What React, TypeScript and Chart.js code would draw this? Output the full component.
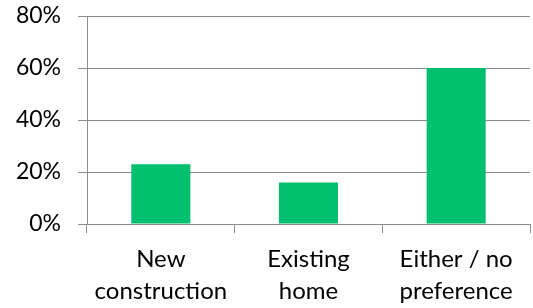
import React, { useEffect, useRef } from "react";
import { Chart, registerables } from "chart.js";

Chart.register(...registerables);

const categories: string[][] = [["New", "construction"], ["Existing", "home"], ["Either / no", "preference"]];
const values: number[] = [23, 16, 60];
const yTicks: number[] = [0, 20, 40, 60, 80];

const FONT = "Lato, 'Open Sans', sans-serif";
const GRID = "#8c8c8c";

export default function App() {
  const ref = useRef<HTMLCanvasElement | null>(null);
  useEffect(() => {
    document.body.style.margin = "0";
    const ctx = ref.current!.getContext("2d")!;
    const chart = new Chart(ctx, {
      type: "bar",
      data: {
        labels: categories,
        datasets: [
          {
            data: values,
            backgroundColor: "#00BF6F",
            borderWidth: 0,
            barPercentage: 0.4,
            categoryPercentage: 1,
          },
        ],
      },
      options: {
        animation: false,
        responsive: false,
        maintainAspectRatio: false,
        layout: { padding: { left: 0, right: 3, top: 16, bottom: 0 } },
        plugins: { legend: { display: false }, tooltip: { enabled: false } },
        scales: {
          x: {
            offset: true,
            grid: {
              offset: true,
              drawOnChartArea: false,
              drawTicks: true,
              tickLength: 9,
              color: GRID,
              lineWidth: 1,
            },
            border: { color: GRID, width: 1 },
            ticks: {
              color: "#000",
              padding: 11,
              maxRotation: 0,
              autoSkip: false,
              font: { family: FONT, size: 24, lineHeight: 1.3 },
            },
            afterFit: (s: any) => {
              s.height = 84;
              s.paddingLeft = 0;
              s.paddingRight = 0;
            },
          },
          y: {
            min: 0,
            max: 80,
            afterBuildTicks: (s: any) => {
              s.ticks = yTicks.map((v) => ({ value: v }));
            },
            grid: { color: GRID, lineWidth: 1, tickLength: 9, drawTicks: true },
            border: { color: GRID, width: 1 },
            ticks: {
              color: "#000",
              padding: 17,
              font: { family: FONT, size: 23 },
              callback: (v: any) => v + "%",
            },
            afterFit: (s: any) => {
              s.width = 87;
              s.paddingTop = 0;
              s.paddingBottom = 0;
            },
          },
        },
      },
    });
    return () => chart.destroy();
  }, []);
  return (
    <div style={{ position: "fixed", left: 0, top: 0, width: 533, height: 308 }}>
      <canvas ref={ref} width={533} height={308} style={{ width: 533, height: 308 }} />
    </div>
  );
}
